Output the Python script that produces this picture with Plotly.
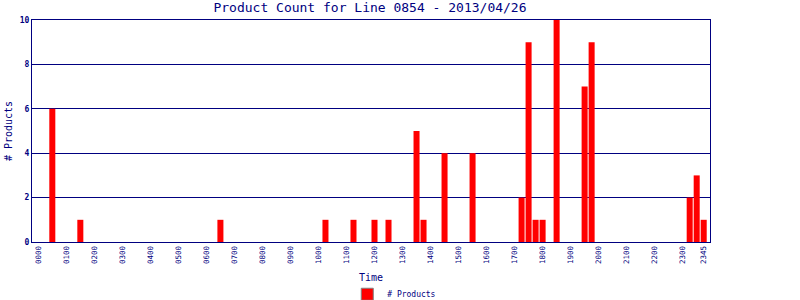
import plotly.graph_objects as go

# 96 quarter-hour slots 0000..2345
slots = [f"{h:02d}{m:02d}" for h in range(24) for m in (0, 15, 30, 45)]
counts_by_slot = {
    "0030": 6, "0130": 1, "0630": 1, "1015": 1, "1115": 1,
    "1200": 1, "1230": 1, "1330": 5, "1345": 1, "1430": 4, "1530": 4,
    "1715": 2, "1730": 9, "1745": 1, "1800": 1, "1830": 10,
    "1930": 7, "1945": 9, "2315": 2, "2330": 3, "2345": 1,
}
counts = [counts_by_slot.get(s, 0) for s in slots]
tick_labels = [f"{h:02d}00" for h in range(24)] + ["2345"]

NAVY = "#000080"
MONO = "DejaVu Sans Mono"

fig = go.Figure()
fig.add_trace(go.Bar(
    x=slots, y=counts, name="# Products",
    marker=dict(color="#ff0000", line=dict(width=0)),
    showlegend=False,
))
fig.add_trace(go.Bar(
    x=[None], y=[None], name="# Products",
    marker=dict(color="#ff0000", line=dict(color="#808080", width=1)),
    showlegend=True,
))

fig.update_layout(
    width=800, height=300,
    margin=dict(l=32, r=90, t=20, b=58, autoexpand=False),
    paper_bgcolor="white", plot_bgcolor="white",
    bargap=0.14,
    title=dict(text="Product Count for Line 0854 - 2013/04/26",
               x=0.4625, xanchor="center", y=0.975, yanchor="middle",
               font=dict(family=MONO, size=13, color=NAVY)),
    font=dict(family=MONO, color=NAVY),
    legend=dict(orientation="h", x=0.465, xanchor="left", y=-0.17,
                yanchor="top", font=dict(family=MONO, size=8, color=NAVY),
                itemwidth=30),
    xaxis=dict(
        type="category", categoryorder="array", categoryarray=slots,
        range=[-0.9, 95.9], tickmode="array", tickvals=tick_labels,
        ticktext=tick_labels, tickangle=-90, automargin=False,
        tickfont=dict(family=MONO, size=7.5, color=NAVY),
        showline=True, linecolor=NAVY, linewidth=1, mirror=True,
        showgrid=False, ticks="",
        title=dict(text="Time", font=dict(family=MONO, size=10, color=NAVY),
                   standoff=10),
    ),
    yaxis=dict(
        range=[0, 10], tickvals=[0, 2, 4, 6, 8, 10], automargin=False,
        tickfont=dict(family=MONO, size=8, color=NAVY, weight="bold"),
        showline=True, linecolor=NAVY, linewidth=1, mirror=True,
        showgrid=True, gridcolor=NAVY, gridwidth=1, zeroline=False,
        ticks="",
        title=dict(text="# Products", font=dict(family=MONO, size=10, color=NAVY),
                   standoff=5),
    ),
)

fig.write_html("out.html")
